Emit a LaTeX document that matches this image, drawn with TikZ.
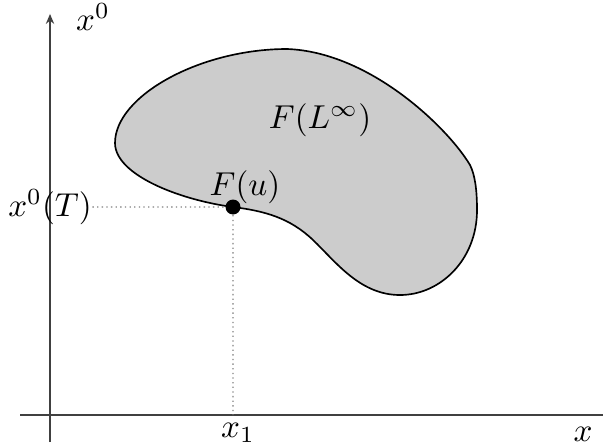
\documentclass[tikz,border=0pt]{standalone}
\usepackage{amsmath,amssymb}
\usepackage{xcolor}
\usepackage{tikz}
\usetikzlibrary{arrows.meta,calc}

\begin{document}
\begin{tikzpicture}[scale=0.5307, every node/.style={font=\normalsize},
    pt/.style={circle, fill, inner sep=1.6pt},
    axis/.style={black!75, line width=0.6pt},
    guide/.style={densely dotted, black!50}]
  \useasboundingbox (0,0) rectangle (12.06,8.92);
  % axes
  \coordinate (h0) at (0.4,0.62);
  \coordinate (h1) at (12.06,0.62);
  \coordinate (v0) at (1,0.08);
  \coordinate (v1) at (1,8.64);
  \draw[axis] (h0) -- (h1);
  \draw[axis, -{Stealth[length=3pt,width=2.5pt]}] (v0) -- (v1);
  \node (lx0) at (1.86,8.58) {$x^0$};
  \node (lx) at (11.66,0.24) {$x$};
  % the set
  \draw[line width=0.5pt, fill=black!20] (2.30,6.06)
    .. controls (2.30,5.42) and (3.60,4.92) .. (4.66,4.78)
    .. controls (5.30,4.70) and (5.80,4.56) .. (6.26,4.12)
    .. controls (6.72,3.68) and (7.20,3.02) .. (8.00,3.02)
    .. controls (8.80,3.02) and (9.54,3.72) .. (9.54,4.72)
    .. controls (9.54,5.12) and (9.50,5.42) .. (9.40,5.62)
    .. controls (8.96,6.36) and (7.40,7.88) .. (5.74,7.94)
    .. controls (4.00,7.94) and (2.30,7.00) .. cycle;
  \node (lset) at (6.4,6.52) {$F(L^\infty)$};
  % the point F(u)
  \node[pt] (u) at (4.66,4.78) {};
  \node (lu) at (4.9,5.18) {$F(u)$};
  \node[inner xsep=0pt] (lT) at (1.0,4.78) {$x^0(T)$};
  \node (l1) at (4.76,0.26) {$x_1$};
  \coordinate (uy) at (lT.east |- u);
  \coordinate (ux) at (u |- h0);
  \draw[guide] (uy) -- (u);
  \draw[guide] (u) -- (ux);
\end{tikzpicture}
\end{document}
